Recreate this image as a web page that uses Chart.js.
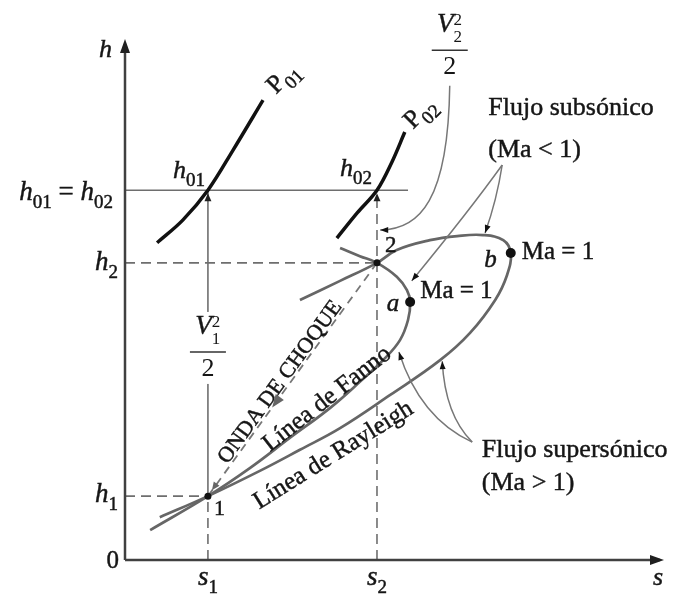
<!DOCTYPE html>
<html>
<head>
<meta charset="utf-8">
<script src="https://cdn.jsdelivr.net/npm/chart.js@4/dist/chart.umd.min.js"></script>
<style>
  html, body { margin: 0; background: #fff; }
  #wrap { width: 673px; height: 596px; }
</style>
</head>
<body>
<div id="wrap"><canvas id="hs"></canvas></div>
<script>
// diagrama h-s: linea de Fanno, linea de Rayleigh y onda de choque normal
var sMax = 10, hMax = 10;

// estados 1 y 2, entalpia de estancamiento
var s1 = 1.55, s2 = 4.71;
var h1 = 1.24, h2 = 5.77, h0 = 7.18;
var h0End = 5.29;

// isobaras de estancamiento P01 y P02
var p01S = [0.60, 1.08, 1.55, 2.02, 2.58];
var p01H = [6.16, 6.60, 7.18, 7.96, 8.93];
var p02S = [3.96, 4.34, 4.71, 4.99, 5.23];
var p02H = [6.25, 6.74, 7.18, 7.73, 8.31];

// linea de Fanno (rama supersonica -> a -> rama subsonica)
var fannoS = [0.47, 1.55, 2.34, 3.08, 3.83, 4.39, 4.86, 5.14, 5.29, 5.33, 5.27, 5.08, 4.71, 4.39, 4.02];
var fannoH = [0.58, 1.24, 1.79, 2.37, 2.95, 3.46, 3.92, 4.27, 4.66, 5.01, 5.24, 5.50, 5.77, 5.90, 6.06];

// linea de Rayleigh (rama supersonica -> b -> rama subsonica)
var rayS = [0.65, 1.55, 2.52, 3.27, 4.02, 4.95, 5.89, 6.45, 6.92, 7.14, 7.21, 7.07, 6.69, 6.21, 5.70, 5.08, 4.71, 4.02, 3.27];
var rayH = [0.83, 1.24, 1.73, 2.14, 2.56, 3.20, 3.88, 4.41, 5.05, 5.53, 5.96, 6.21, 6.31, 6.29, 6.21, 6.02, 5.77, 5.42, 5.05];

// puntos Ma = 1
var pointA = [5.33, 5.01];
var pointB = [7.21, 5.96];

function pts(xs, ys) {
  return xs.map(function (x, i) { return { x: x, y: ys[i] }; });
}

var FONT = '"Liberation Serif", "Times New Roman", serif';
var INK = '#161616';
var GUIDE = '#6e6e6e';

function fontFor(p, size) {
  var sz = (p.sub || p.sup) ? Math.round(size * 0.72) : size;
  return (p.it ? 'italic ' : '') + sz + 'px ' + FONT;
}

// texto con subindices; y es la linea base
function drawRich(ctx, parts, x, y, size, align) {
  var w = 0;
  parts.forEach(function (p) {
    ctx.font = fontFor(p, size);
    p.w = ctx.measureText(p.t).width;
    w += p.w;
  });
  var cx = align === 'center' ? x - w / 2 : (align === 'right' ? x - w : x);
  ctx.textAlign = 'left';
  ctx.textBaseline = 'alphabetic';
  ctx.strokeStyle = ctx.fillStyle;
  ctx.lineWidth = 0.45;
  ctx.setLineDash([]);
  parts.forEach(function (p) {
    ctx.font = fontFor(p, size);
    var dy = p.sub ? size * 0.3 : (p.sup ? -size * 0.4 : 0);
    ctx.fillText(p.t, cx, y + dy);
    ctx.strokeText(p.t, cx, y + dy);
    cx += p.w;
  });
  return w;
}

function arrowHead(ctx, x, y, ang, len, half) {
  ctx.save();
  ctx.translate(x, y);
  ctx.rotate(ang);
  ctx.beginPath();
  ctx.moveTo(0, 0);
  ctx.lineTo(-len, -half);
  ctx.lineTo(-len, half);
  ctx.closePath();
  ctx.fill();
  ctx.restore();
}

var hsLabels = {
  id: 'hsLabels',
  afterDatasetsDraw: function (chart) {
    var ctx = chart.ctx, xs = chart.scales.x, ys = chart.scales.y, area = chart.chartArea;
    function X(v) { return xs.getPixelForValue(v); }
    function Y(v) { return ys.getPixelForValue(v); }

    ctx.save();

    // ejes con flecha
    ctx.strokeStyle = '#404040';
    ctx.fillStyle = '#202020';
    ctx.lineWidth = 2.5;
    ctx.beginPath();
    ctx.moveTo(area.left, area.bottom);
    ctx.lineTo(area.left, area.top);
    ctx.moveTo(area.left, area.bottom);
    ctx.lineTo(area.right, area.bottom);
    ctx.stroke();
    arrowHead(ctx, area.left, area.top - 6, -Math.PI / 2, 14, 5);
    arrowHead(ctx, area.right + 4, area.bottom, 0, 14, 5);

    // flechas verticales hacia h01 / h02
    arrowHead(ctx, X(s1), Y(h0) + 3, -Math.PI / 2, 8, 3.5);
    arrowHead(ctx, X(s2), Y(h0) + 3, -Math.PI / 2, 8, 3.5);

    // lineas de referencia con curvas
    ctx.strokeStyle = '#777';
    ctx.fillStyle = '#111';
    ctx.lineWidth = 1.5;
    function leader(a, c1, c2, b) {
      ctx.beginPath();
      ctx.moveTo(X(a[0]), Y(a[1]));
      var ex = X(b[0]), ey = Y(b[1]), kx, ky;
      if (c2) {
        ctx.bezierCurveTo(X(c1[0]), Y(c1[1]), X(c2[0]), Y(c2[1]), ex, ey);
        kx = X(c2[0]); ky = Y(c2[1]);
      } else {
        ctx.quadraticCurveTo(X(c1[0]), Y(c1[1]), ex, ey);
        kx = X(c1[0]); ky = Y(c1[1]);
      }
      ctx.stroke();
      arrowHead(ctx, ex, ey, Math.atan2(ey - ky, ex - kx), 8, 3);
    }
    leader([6.07, 9.21], [6.04, 6.99], [5.51, 6.41], [4.77, 6.41]);
    leader([7.05, 7.67], [6.95, 6.99], null, [6.73, 6.35]);
    leader([7.05, 7.67], [6.45, 6.80], null, [5.36, 5.42]);
    leader([6.49, 2.29], [5.51, 2.76], null, [5.12, 4.04]);
    leader([6.49, 2.29], [5.98, 2.82], null, [5.93, 3.86]);

    // flecha de la onda de choque
    ctx.fillStyle = '#666';
    var ang = Math.atan2(Y(h1) - Y(h2), X(s1) - X(s2));
    var t = 0.62;
    arrowHead(ctx, X(s2 + (s1 - s2) * t), Y(h2 + (h1 - h2) * t), ang, 13, 5);
    arrowHead(ctx, X(s1) + 4, Y(h1) - 6, ang, 8, 3.5);

    ctx.fillStyle = INK;

    // rotulos de los ejes
    drawRich(ctx, [{ t: 'h', it: true }], area.left - 13, area.top + 12, 26, 'right');
    drawRich(ctx, [{ t: 's', it: true }], area.right - 2, area.bottom + 25, 26, 'center');
    drawRich(ctx, [{ t: '0' }], area.left - 6, area.bottom + 8, 25, 'right');
    drawRich(ctx, [{ t: 'h', it: true }, { t: '01', sub: true }, { t: ' = ' }, { t: 'h', it: true }, { t: '02', sub: true }], area.left - 12, Y(h0) + 10, 27, 'right');
    drawRich(ctx, [{ t: 'h', it: true }, { t: '2', sub: true }], area.left - 7, Y(h2) + 7, 27, 'right');
    drawRich(ctx, [{ t: 'h', it: true }, { t: '1', sub: true }], area.left - 7, Y(h1) + 6, 27, 'right');
    drawRich(ctx, [{ t: 's', it: true }, { t: '1', sub: true }], X(s1), area.bottom + 25, 27, 'center');
    drawRich(ctx, [{ t: 's', it: true }, { t: '2', sub: true }], X(s2), area.bottom + 25, 27, 'center');

    // estados y entalpias de estancamiento
    drawRich(ctx, [{ t: 'h', it: true }, { t: '01', sub: true }], X(s1) - 3, Y(h0) - 12, 26, 'right');
    drawRich(ctx, [{ t: 'h', it: true }, { t: '02', sub: true }], X(s2) - 5, Y(h0) - 14, 26, 'right');
    drawRich(ctx, [{ t: '1' }], X(s1) + 6, Y(h1) + 19, 22, 'left');
    drawRich(ctx, [{ t: '2' }], X(s2) + 8, Y(h2) - 11, 23, 'left');
    drawRich(ctx, [{ t: 'a', it: true }], X(pointA[0]) - 11, Y(pointA[1]) + 9, 25, 'right');
    drawRich(ctx, [{ t: 'Ma = 1' }], X(pointA[0]) + 10, Y(pointA[1]) - 4, 25, 'left');
    drawRich(ctx, [{ t: 'b', it: true }], X(pointB[0]) - 14, Y(pointB[1]) + 14, 25, 'right');
    drawRich(ctx, [{ t: 'Ma = 1' }], X(pointB[0]) + 11, Y(pointB[1]) + 6, 25, 'left');

    drawRich(ctx, [{ t: 'Flujo subsónico' }], X(6.79), Y(8.64), 26, 'left');
    drawRich(ctx, [{ t: '(Ma < 1)' }], X(6.79), Y(7.83), 26, 'left');
    drawRich(ctx, [{ t: 'Flujo supersónico' }], X(6.67), Y(2.0), 26, 'left');
    drawRich(ctx, [{ t: '(Ma > 1)' }], X(6.67), Y(1.36), 26, 'left');

    // fracciones V^2/2
    function fraction(cx, lineY, sub, clear) {
      ctx.font = 'italic 27px ' + FONT;
      var wv = ctx.measureText('V').width;
      var left = cx - (wv + 9) / 2;
      if (clear) {
        ctx.fillStyle = '#fff';
        ctx.fillRect(cx - 20, lineY - 40, 40, 72);
        ctx.fillStyle = INK;
      }
      ctx.strokeStyle = INK;
      ctx.lineWidth = 0.45;
      ctx.textAlign = 'left';
      ctx.textBaseline = 'alphabetic';
      ctx.fillText('V', left, lineY - 18);
      ctx.strokeText('V', left, lineY - 18);
      ctx.font = '17px ' + FONT;
      ctx.fillText('2', left + wv, lineY - 25);
      ctx.fillText(sub, left + wv, lineY - 8);
      ctx.strokeStyle = '#333';
      ctx.lineWidth = 1.5;
      ctx.beginPath();
      ctx.moveTo(cx - 18, lineY);
      ctx.lineTo(cx + 18, lineY);
      ctx.stroke();
      ctx.font = '26px ' + FONT;
      ctx.textAlign = 'center';
      ctx.fillText('2', cx, lineY + 24);
    }
    fraction(X(s1), Y(4.04), '1', true);
    fraction(X(6.07), Y(9.90), '2', false);

    // rotulos inclinados
    function rotated(parts, s, h, deg, size) {
      ctx.save();
      ctx.translate(X(s), Y(h));
      ctx.rotate(deg * Math.PI / 180);
      drawRich(ctx, parts, 0, size * 0.33, size, 'center');
      ctx.restore();
    }
    rotated([{ t: 'ONDA DE CHOQUE' }], 2.88, 3.47, -54, 22);
    rotated([{ t: 'Línea de Fanno' }], 3.76, 3.15, -38, 25);
    rotated([{ t: 'Línea de Rayleigh' }], 3.88, 2.06, -32, 25);
    rotated([{ t: 'P' }, { t: '01', sub: true }], 2.93, 9.38, -45, 26);
    rotated([{ t: 'P' }, { t: '02', sub: true }], 5.49, 8.70, -45, 26);

    ctx.restore();
  }
};

function line(data, color, width, dash, tension) {
  return {
    data: data,
    showLine: true,
    borderColor: color,
    borderWidth: width,
    borderDash: dash || [],
    tension: tension || 0,
    pointRadius: 0,
    fill: false,
    clip: false
  };
}

var datasets = [
  {
    data: [{ x: s1, y: h1 }, { x: s2, y: h2 }, { x: pointA[0], y: pointA[1] }, { x: pointB[0], y: pointB[1] }],
    pointRadius: [3.5, 3.5, 5, 5],
    pointBackgroundColor: '#111',
    pointBorderWidth: 0,
    showLine: false,
    clip: false
  },
  line(pts(p01S, p01H), '#111', 3.5, null, 0.35),
  line(pts(p02S, p02H), '#111', 3.5, null, 0.35),
  line(pts(fannoS, fannoH), '#666', 2.7, null, 0.4),
  line(pts(rayS, rayH), '#666', 2.7, null, 0.4),
  line([{ x: s2, y: h2 }, { x: s1, y: h1 }], '#777', 1.8, [8, 6]),
  line([{ x: 0, y: h0 }, { x: h0End, y: h0 }], GUIDE, 1.6),
  line([{ x: 0, y: h2 }, { x: s2, y: h2 }], GUIDE, 1.6, [10, 6]),
  line([{ x: 0, y: h1 }, { x: s1, y: h1 }], GUIDE, 1.6, [10, 6]),
  line([{ x: s1, y: h1 }, { x: s1, y: h0 }], GUIDE, 1.6),
  line([{ x: s1, y: 0 }, { x: s1, y: h1 }], GUIDE, 1.6, [10, 6]),
  line([{ x: s2, y: 0 }, { x: s2, y: h0 }], GUIDE, 1.6, [10, 6])
];

new Chart(document.getElementById('hs'), {
  type: 'scatter',
  data: { datasets: datasets },
  options: {
    responsive: true,
    maintainAspectRatio: false,
    animation: false,
    layout: { padding: { left: 125, right: 13, top: 45, bottom: 36 } },
    scales: {
      x: { type: 'linear', display: false, min: 0, max: sMax },
      y: { type: 'linear', display: false, min: 0, max: hMax }
    },
    plugins: {
      legend: { display: false },
      tooltip: { enabled: false }
    }
  },
  plugins: [hsLabels]
});
</script>
</body>
</html>
